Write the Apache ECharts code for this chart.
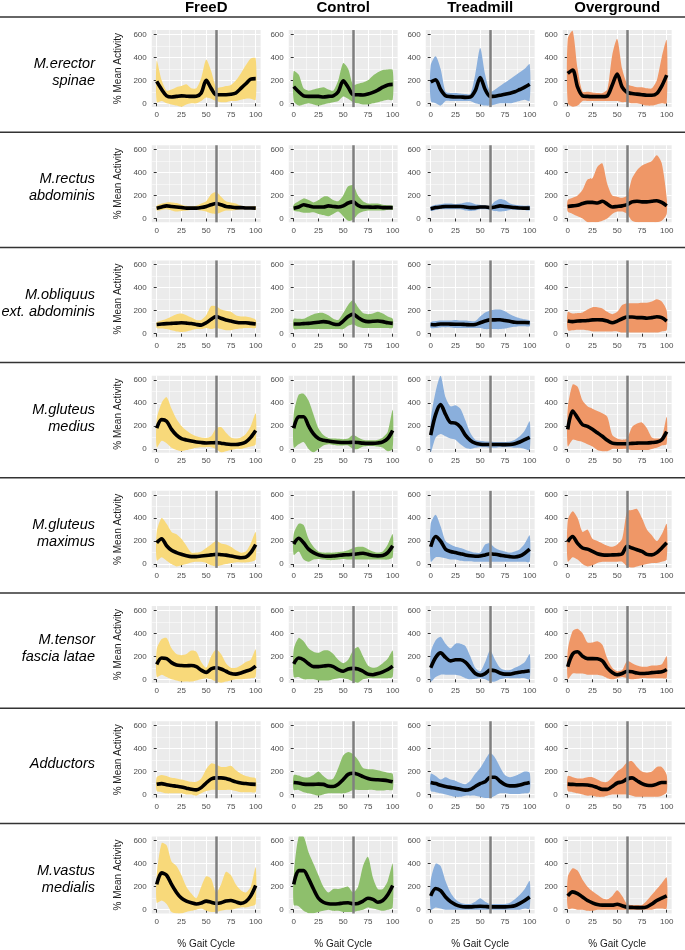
<!DOCTYPE html>
<html><head><meta charset="utf-8">
<script src="https://cdn.jsdelivr.net/npm/echarts@6/dist/echarts.min.js"></script>
<style>html,body{margin:0;padding:0;background:#fff}#c{width:685px;height:950px}</style>
</head><body><div id="c"></div><script>
// ---------- data ----------
const gaitCycle = [0,5,10,15,20,25,30,35,40,45,50,55,60,65,70,75,80,85,90,95,100];
const conditions = ['FreeD','Control','Treadmill','Overground'];
const muscleLabels = [['M.erector','spinae'],['M.rectus','abdominis'],['M.obliquus','ext. abdominis'],['M.gluteus','medius'],['M.gluteus','maximus'],['M.tensor','fascia latae'],['Adductors'],['M.vastus','medialis']];
const xTicks = [0,25,50,75,100];
const xMinorTicks = [12.5,37.5,62.5,87.5];
const yTicks = [0,200,400,600];
const yMinorTicks = [100,300,500];
const toeOff = 60;

// M.erector spinae
const ES_F_m  = [190,120,65,55,60,65,62,60,62,90,200,130,75,75,75,78,90,130,170,210,215];
const ES_F_lo = [10,20,0,-10,-20,-30,-10,0,0,20,50,40,20,10,10,20,20,30,40,40,30];
const ES_F_hi = [370,200,110,120,140,150,165,130,130,220,380,280,140,140,150,160,200,260,330,390,390];
const ES_C_m  = [145,100,65,60,60,60,55,60,65,100,195,140,75,75,72,80,95,115,140,160,165];
const ES_C_lo = [20,-20,-10,0,-10,-20,-10,0,10,20,60,40,10,0,-10,-10,0,10,20,30,30];
const ES_C_hi = [280,250,130,110,120,130,140,120,110,200,350,300,160,170,180,200,240,270,290,295,290];
const ES_T_m  = [185,205,120,65,58,55,55,52,55,110,225,120,60,62,70,78,88,100,120,140,165];
const ES_T_lo = [20,0,-20,20,20,20,20,20,20,0,-10,-20,-20,-10,0,0,0,10,20,30,20];
const ES_T_hi = [330,410,300,100,90,90,85,80,80,250,480,250,100,120,150,180,210,240,270,300,340];
const ES_O_m  = [260,290,140,65,60,58,58,58,65,160,255,140,95,85,80,75,70,70,85,150,245];
const ES_O_lo = [0,-30,-20,20,20,20,20,20,20,20,20,10,10,0,0,-10,-20,-20,-10,0,0];
const ES_O_hi = [560,630,300,100,100,95,90,90,120,420,560,300,170,150,140,140,130,130,200,400,550];
// M.rectus abdominis
const RA_F_m  = [90,100,110,105,100,95,90,90,90,95,105,120,130,120,105,100,95,95,92,92,90];
const RA_F_lo = [70,75,80,70,60,65,70,75,75,70,60,45,40,55,70,70,75,80,80,80,75];
const RA_F_hi = [110,130,140,140,135,120,110,105,110,130,150,210,230,190,150,140,130,110,105,105,105];
const RA_C_m  = [90,100,120,110,100,100,100,110,105,100,110,135,145,115,100,100,98,100,95,95,95];
const RA_C_lo = [70,60,50,50,55,40,30,20,40,60,20,-20,-10,40,60,70,70,70,70,75,75];
const RA_C_hi = [120,150,175,160,140,160,190,190,160,150,200,280,290,200,150,130,130,130,120,115,110];
const RA_T_m  = [85,95,100,105,105,105,105,100,95,95,100,100,95,100,110,105,100,95,92,90,90];
const RA_T_lo = [65,75,80,80,80,80,80,70,65,70,80,80,75,65,60,65,75,75,75,75,70];
const RA_T_hi = [105,120,125,130,130,125,130,140,140,125,120,115,110,150,170,160,130,120,115,110,110];
const RA_O_m  = [105,110,115,130,140,140,135,150,125,100,105,110,120,145,150,145,145,150,155,140,110];
const RA_O_lo = [60,40,20,0,-40,-40,-40,-20,0,40,60,60,40,-20,-40,-40,-40,-40,-40,-20,40];
const RA_O_hi = [160,180,200,250,340,350,450,480,300,200,190,180,200,350,420,460,480,500,550,480,180];
// M.obliquus ext. abdominis
const OE_F_m  = [80,85,88,90,92,95,92,88,80,75,95,125,150,135,120,110,100,95,95,90,85];
const OE_F_lo = [50,45,40,30,20,15,20,30,40,40,50,40,50,40,30,30,40,45,50,50,50];
const OE_F_hi = [100,115,130,150,170,175,160,140,120,120,160,240,240,210,200,190,160,150,150,140,120];
const OE_C_m  = [85,85,88,90,95,100,105,100,85,80,110,150,170,140,115,105,108,110,105,95,90];
const OE_C_lo = [40,40,40,40,40,40,40,40,40,40,40,70,80,60,50,50,50,50,50,50,50];
const OE_C_hi = [130,130,130,150,170,180,180,160,130,120,180,250,290,230,180,170,175,190,175,150,130];
const OE_T_m  = [80,78,85,85,83,82,82,80,78,80,95,110,120,120,122,115,108,100,98,98,95];
const OE_T_lo = [50,50,55,55,55,50,50,50,50,50,50,40,40,40,40,45,55,60,65,65,65];
const OE_T_hi = [100,110,115,115,115,120,115,115,110,110,150,185,200,210,210,195,170,150,135,125,115];
const OE_O_m  = [110,105,110,112,115,120,122,120,110,95,110,130,145,145,140,140,135,140,148,140,110];
const OE_O_lo = [30,30,35,35,30,20,20,20,20,20,20,10,10,10,10,10,10,10,10,20,30];
const OE_O_hi = [190,175,180,185,210,230,230,220,190,170,190,250,265,265,265,270,270,280,300,280,200];
// M.gluteus medius
const GMED_F_m  = [180,255,240,170,120,90,78,68,60,55,52,53,55,50,42,38,38,45,60,100,160];
const GMED_F_lo = [10,70,50,10,-10,-20,-10,0,10,15,15,15,0,-30,-20,-10,0,0,10,20,40];
const GMED_F_hi = [260,400,450,350,260,200,160,130,110,100,95,110,180,190,140,100,90,100,130,200,310];
const GMED_C_m  = [180,280,280,200,130,90,75,68,62,58,56,56,58,55,50,48,48,52,62,90,160];
const GMED_C_lo = [10,40,60,0,-30,0,30,40,35,30,30,30,0,0,20,25,25,20,10,-20,0];
const GMED_C_hi = [300,470,480,420,300,180,120,95,90,88,85,90,120,100,80,75,75,80,100,150,340];
const GMED_T_m  = [120,300,385,300,230,225,190,120,75,50,40,38,38,38,38,37,38,45,60,80,100];
const GMED_T_lo = [-30,100,130,110,90,80,40,10,0,10,15,15,10,10,15,15,15,10,10,0,-10];
const GMED_T_hi = [250,500,640,450,370,380,350,250,140,80,70,65,65,60,60,60,65,80,110,160,240];
const GMED_O_m  = [170,330,270,210,195,170,140,110,75,50,45,45,45,48,50,52,52,55,60,80,150];
const GMED_O_lo = [20,80,70,60,40,20,-10,-20,-20,0,0,0,0,-10,-10,-10,-10,0,10,30,40];
const GMED_O_hi = [350,560,540,420,370,350,330,310,280,120,90,80,90,190,220,230,180,100,90,100,280];
// M.gluteus maximus
const GMAX_F_m  = [185,220,160,120,100,85,72,65,65,70,75,80,85,82,78,70,62,55,60,100,170];
const GMAX_F_lo = [30,60,30,0,-20,-10,0,15,20,20,10,-10,-20,-10,0,10,15,15,15,20,40];
const GMAX_F_hi = [280,400,350,280,260,220,160,100,100,110,140,170,200,180,170,150,120,100,110,180,280];
const GMAX_C_m  = [175,225,185,130,100,80,70,68,70,75,80,82,85,90,95,85,75,72,75,100,160];
const GMAX_C_lo = [80,110,40,20,40,45,40,35,35,40,45,40,40,40,40,40,40,40,40,40,60];
const GMAX_C_hi = [260,350,340,220,150,110,100,100,100,105,110,120,140,150,150,130,110,100,110,170,260];
const GMAX_T_m  = [150,240,200,130,110,100,90,80,72,68,70,80,90,85,78,70,65,62,70,95,130];
const GMAX_T_lo = [20,60,60,50,40,40,30,25,25,20,20,20,20,20,20,20,20,20,20,20,20];
const GMAX_T_hi = [350,430,330,200,170,150,140,125,110,100,100,170,180,140,120,110,100,110,130,180,250];
const GMAX_O_m  = [195,240,180,140,130,110,90,80,78,80,82,90,155,140,125,110,85,80,100,140,185];
const GMAX_O_lo = [20,60,40,0,-20,-10,10,20,20,20,20,20,-20,-30,-20,-10,0,10,10,20,40];
const GMAX_O_hi = [380,460,400,280,300,220,200,180,160,150,170,220,460,470,480,400,300,250,200,260,350];
// M.tensor fascia latae
const TFL_F_m  = [130,185,180,145,125,120,118,120,110,80,60,90,100,90,70,50,45,55,70,85,115];
const TFL_F_lo = [20,40,20,0,-10,-20,-20,-20,-10,0,10,0,-20,-30,-20,-10,0,0,5,10,20];
const TFL_F_hi = [260,350,360,270,220,210,220,250,240,150,100,200,260,220,140,100,100,120,150,170,260];
const TFL_C_m  = [135,185,170,135,110,110,115,120,110,85,70,90,95,90,70,45,40,50,65,85,115];
const TFL_C_lo = [20,20,0,0,0,-10,-10,-10,0,10,10,0,-20,-30,0,10,10,10,10,10,20];
const TFL_C_hi = [260,360,330,270,240,230,250,250,220,170,140,170,250,280,200,120,100,110,140,180,250];
const TFL_T_m  = [100,190,230,190,160,170,170,150,100,50,35,50,80,75,55,45,45,55,62,68,75];
const TFL_T_lo = [-20,20,40,40,40,40,30,10,0,5,10,0,-20,-20,0,10,10,10,10,10,0];
const TFL_T_hi = [230,340,370,310,270,310,310,290,200,100,70,150,250,170,100,80,80,100,120,150,220];
const TFL_O_m  = [110,220,240,200,180,180,178,160,100,60,40,50,70,65,55,50,52,58,62,65,85];
const TFL_O_lo = [0,50,50,50,40,40,40,30,10,0,10,20,10,0,5,10,10,10,10,10,10];
const TFL_O_hi = [250,420,440,400,320,320,330,300,180,100,70,80,160,140,120,110,110,120,120,130,200];
// Adductors
const ADD_F_m  = [90,95,85,78,72,65,55,45,40,60,100,135,145,145,140,125,110,100,95,90,88];
const ADD_F_lo = [30,20,10,10,10,10,0,0,-10,10,30,40,40,40,40,40,30,20,20,20,20];
const ADD_F_hi = [150,170,160,145,140,130,120,110,110,140,220,270,260,240,240,250,210,180,160,150,140];
const ADD_C_m  = [105,100,90,88,88,90,88,72,70,90,130,175,185,175,155,140,130,128,125,120,110];
const ADD_C_lo = [40,40,20,10,0,-10,0,10,10,10,10,20,40,40,40,40,40,35,35,40,40];
const ADD_C_hi = [170,165,150,150,170,200,160,130,140,230,340,370,350,300,230,220,220,210,200,190,180];
const ADD_T_m  = [105,95,80,70,62,55,45,38,45,70,95,110,150,150,115,85,75,75,82,95,105];
const ADD_T_lo = [30,20,10,0,-10,-20,-20,-10,-10,-10,-20,-30,-30,-10,10,10,5,5,5,10,20];
const ADD_T_hi = [180,160,130,150,130,120,100,90,120,180,230,300,360,320,240,170,150,160,180,200,190];
const ADD_O_m  = [90,88,85,85,82,75,60,45,45,70,100,110,135,145,120,95,80,78,90,105,105];
const ADD_O_lo = [30,20,10,0,-10,-10,-20,-20,-10,0,0,0,0,-10,-20,-20,-20,-20,-20,-10,20];
const ADD_O_hi = [160,150,140,140,150,150,130,110,110,150,200,230,280,290,240,200,190,200,240,240,170];
// M.vastus medialis
const VM_F_m  = [220,320,300,220,150,100,75,60,50,58,75,65,55,60,75,80,68,55,70,120,210];
const VM_F_lo = [60,80,50,-20,-40,-40,-20,-10,0,10,-10,-20,-20,-10,0,0,10,20,20,30,50];
const VM_F_hi = [300,580,560,420,380,300,200,140,100,200,290,270,150,220,330,300,220,170,150,200,370];
const VM_C_m  = [220,340,340,270,180,100,65,52,50,52,58,60,52,55,75,100,90,65,80,130,210];
const VM_C_lo = [40,30,-10,-30,-30,-20,-10,0,-10,-10,-20,-20,-20,-10,0,20,10,0,-10,0,20];
const VM_C_hi = [300,640,640,500,400,300,200,150,180,180,190,200,150,200,380,460,280,180,180,250,400];
const VM_T_m  = [120,185,165,110,70,45,30,25,25,28,30,28,25,25,25,25,28,35,55,80,110];
const VM_T_lo = [0,20,10,0,0,0,0,0,0,0,0,0,0,0,0,0,0,0,0,10,10];
const VM_T_hi = [250,400,380,250,150,90,60,50,50,70,100,70,50,50,50,50,60,90,130,180,250];
const VM_O_m  = [120,155,140,110,80,60,45,40,40,40,48,35,22,20,18,18,25,50,80,100,120];
const VM_O_lo = [10,10,0,0,-10,-10,0,0,0,0,0,0,0,0,0,0,0,0,10,10,10];
const VM_O_hi = [280,360,340,260,200,160,130,100,90,120,170,120,50,40,40,40,80,130,180,230,280];

const panels = [
  [[ES_F_m,ES_F_lo,ES_F_hi],[ES_C_m,ES_C_lo,ES_C_hi],[ES_T_m,ES_T_lo,ES_T_hi],[ES_O_m,ES_O_lo,ES_O_hi]],
  [[RA_F_m,RA_F_lo,RA_F_hi],[RA_C_m,RA_C_lo,RA_C_hi],[RA_T_m,RA_T_lo,RA_T_hi],[RA_O_m,RA_O_lo,RA_O_hi]],
  [[OE_F_m,OE_F_lo,OE_F_hi],[OE_C_m,OE_C_lo,OE_C_hi],[OE_T_m,OE_T_lo,OE_T_hi],[OE_O_m,OE_O_lo,OE_O_hi]],
  [[GMED_F_m,GMED_F_lo,GMED_F_hi],[GMED_C_m,GMED_C_lo,GMED_C_hi],[GMED_T_m,GMED_T_lo,GMED_T_hi],[GMED_O_m,GMED_O_lo,GMED_O_hi]],
  [[GMAX_F_m,GMAX_F_lo,GMAX_F_hi],[GMAX_C_m,GMAX_C_lo,GMAX_C_hi],[GMAX_T_m,GMAX_T_lo,GMAX_T_hi],[GMAX_O_m,GMAX_O_lo,GMAX_O_hi]],
  [[TFL_F_m,TFL_F_lo,TFL_F_hi],[TFL_C_m,TFL_C_lo,TFL_C_hi],[TFL_T_m,TFL_T_lo,TFL_T_hi],[TFL_O_m,TFL_O_lo,TFL_O_hi]],
  [[ADD_F_m,ADD_F_lo,ADD_F_hi],[ADD_C_m,ADD_C_lo,ADD_C_hi],[ADD_T_m,ADD_T_lo,ADD_T_hi],[ADD_O_m,ADD_O_lo,ADD_O_hi]],
  [[VM_F_m,VM_F_lo,VM_F_hi],[VM_C_m,VM_C_lo,VM_C_hi],[VM_T_m,VM_T_lo,VM_T_hi],[VM_O_m,VM_O_lo,VM_O_hi]]
];

// ---------- styling / layout ----------
const fills = ['#F8D97A','#8EBF6C','#8AAFDC','#EF9767'];
const FONT = '"Liberation Sans", Arial, Helvetica, sans-serif';
const L0 = 151.75, DX = 137, W = 108.9, T0 = 30.05, DY = 115.2, H = 77.05;
const YMIN = -33, YMAX = 637;
const clampY = v => Math.min(YMAX, Math.max(YMIN, v));

const option = {animation:false, textStyle:{fontFamily:FONT}, grid:[], xAxis:[], yAxis:[], series:[], graphic:[]};

for (let r = 0; r < 8; r++) {
  for (let c = 0; c < 4; c++) {
    const k = r*4 + c;
    const [m, lo, hi] = panels[r][c];
    option.grid.push({left:L0 + c*DX, top:T0 + r*DY, width:W, height:H, show:true, backgroundColor:'#EBEBEB', borderWidth:0});
    option.xAxis.push({gridIndex:k, type:'value', min:-5, max:105, position:'bottom',
      axisLine:{show:false},
      axisTick:{show:true, length:3, lineStyle:{color:'#333', width:1}, customValues:xTicks},
      axisLabel:{show:true, customValues:xTicks, fontSize:8, color:'#4D4D4D', margin:4, fontFamily:FONT},
      splitLine:{show:true, lineStyle:{color:'#FFFFFF', width:1}}});
    option.xAxis.push({gridIndex:k, type:'value', min:-5, max:105, position:'top',
      axisLine:{show:false}, axisTick:{show:false, customValues:xMinorTicks},
      axisLabel:{show:false, customValues:xMinorTicks},
      splitLine:{show:true, lineStyle:{color:'#FFFFFF', width:0.5}}});
    option.yAxis.push({gridIndex:k, type:'value', min:YMIN, max:YMAX, position:'left',
      axisLine:{show:false},
      axisTick:{show:true, length:3, lineStyle:{color:'#333', width:1}, customValues:yTicks},
      axisLabel:{show:true, customValues:yTicks, fontSize:8, color:'#4D4D4D', margin:5, fontFamily:FONT},
      splitLine:{show:true, lineStyle:{color:'#FFFFFF', width:1}}});
    option.yAxis.push({gridIndex:k, type:'value', min:YMIN, max:YMAX, position:'right',
      axisLine:{show:false}, axisTick:{show:false, customValues:yMinorTicks},
      axisLabel:{show:false, customValues:yMinorTicks},
      splitLine:{show:true, lineStyle:{color:'#FFFFFF', width:0.5}}});

    const xi = 2*k, yi = 2*k;
    option.series.push({type:'custom', xAxisIndex:xi, yAxisIndex:yi, clip:true, silent:true, z:1,
      data:[[0, 0]],
      renderItem: (params, api) => {
        const top = gaitCycle.map((x,i) => api.coord([x, clampY(hi[i])]));
        const bot = gaitCycle.map((x,i) => api.coord([x, clampY(lo[i])])).reverse();
        return {type:'polygon', shape:{points: top.concat(bot), smooth:0.25},
                style:{fill: fills[c], stroke:null}};
      }});
    option.series.push({type:'line', xAxisIndex:xi, yAxisIndex:yi,
      data: gaitCycle.map((x,i)=>[x, m[i]]), symbol:'none', smooth:0.3, silent:true,
      lineStyle:{color:'#000', width:3.6}, z:3,
      markLine:{silent:true, symbol:['none','none'], label:{show:false}, animation:false,
        lineStyle:{color:'#7F7F7F', width:2.5, type:'solid'}, emphasis:{disabled:true},
        data:[{xAxis:toeOff}]}});
  }
}

conditions.forEach((t, c) => {
  option.graphic.push({type:'text', x:L0 + c*DX + W/2, y:8,
    style:{text:t, font:'bold 15px ' + FONT, fill:'#000', align:'center', verticalAlign:'middle'}});
  option.graphic.push({type:'text', x:L0 + c*DX + W/2, y:944,
    style:{text:'% Gait Cycle', font:'10px ' + FONT, fill:'#1A1A1A', align:'center', verticalAlign:'middle'}});
});
for (let r = 0; r < 8; r++) {
  const yc = T0 + r*DY + H/2;
  option.graphic.push({type:'line', shape:{x1:0, y1:17 + r*DY, x2:685, y2:17 + r*DY},
    style:{stroke:'#333', lineWidth:1.5}});
  option.graphic.push({type:'text', x:95, y:yc + 4,
    style:{text:muscleLabels[r].join('\n'), font:'italic 14.5px ' + FONT, fill:'#000', align:'right', verticalAlign:'middle', lineHeight:17}});
  option.graphic.push({type:'text', x:118, y:yc, rotation:Math.PI/2,
    style:{text:'% Mean Activity', font:'10px ' + FONT, fill:'#1A1A1A', align:'center', verticalAlign:'middle'}});
}

const chart = echarts.init(document.getElementById('c'), null, {renderer:'canvas'});
chart.setOption(option);
</script></body></html>
